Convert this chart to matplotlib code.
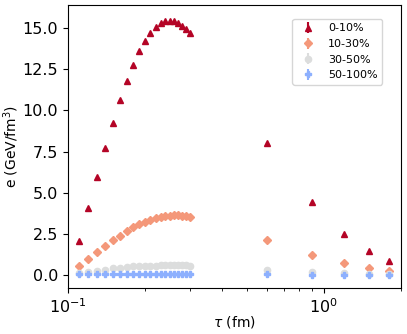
import matplotlib
matplotlib.use("Agg")
import matplotlib.pyplot as plt
import numpy as np

tau = [0.11, 0.12, 0.13, 0.14, 0.15, 0.16, 0.17, 0.18, 0.19, 0.20,
       0.21, 0.22, 0.23, 0.24, 0.25, 0.26, 0.27, 0.28, 0.29, 0.30,
       0.6, 0.9, 1.2, 1.5, 1.8]

e_0_10 = [2.1, 4.1, 5.97, 7.7, 9.25, 10.65, 11.8, 12.75, 13.6, 14.2,
          14.7, 15.05, 15.3, 15.4, 15.45, 15.4, 15.3, 15.15, 14.95, 14.7,
          8.05, 4.43, 2.52, 1.45, 0.87]
e_10_30 = [0.53, 1.01, 1.43, 1.8, 2.12, 2.4, 2.68, 2.9, 3.08, 3.25,
           3.38, 3.47, 3.54, 3.59, 3.62, 3.63, 3.63, 3.62, 3.6, 3.55,
           2.12, 1.23, 0.73, 0.46, 0.28]
e_30_50 = [0.14, 0.22, 0.28, 0.34, 0.41, 0.46, 0.5, 0.53, 0.55, 0.57,
           0.58, 0.59, 0.6, 0.6, 0.6, 0.6, 0.6, 0.6, 0.6, 0.59,
           0.34, 0.2, 0.12, 0.08, 0.06]
e_50_100 = [0.05, 0.06, 0.06, 0.07, 0.07, 0.07, 0.07, 0.07, 0.07, 0.07,
            0.07, 0.07, 0.07, 0.07, 0.07, 0.07, 0.07, 0.07, 0.07, 0.07,
            0.05, 0.04, 0.03, 0.03, 0.02]
err = [0.05] * len(tau)

labels = ["0-10%", "10-30%", "30-50%", "50-100%"]
series = [e_0_10, e_10_30, e_30_50, e_50_100]
colors = ["#b40426", "#f4987a", "#dcdddd", "#8db0fe"]
markers = ["^", "D", "o", "P"]
sizes = [5, 4, 4.5, 5]

fig = plt.figure(figsize=(4.07, 3.34), dpi=100)
ax = fig.add_axes([0.167, 0.138, 0.818, 0.847])

for vals, lab, col, mk, ms in zip(series, labels, colors, markers, sizes):
    ax.errorbar(tau, vals, yerr=err, fmt=mk, color=col, ecolor=col,
                markersize=ms, label=lab)

ax.set_xscale("log")
ax.set_xlim(0.1, 2.0)
ax.set_ylim(-0.77, 16.4)
ax.set_yticks([0, 2.5, 5, 7.5, 10, 12.5, 15])
ax.tick_params(axis="both", which="major", labelsize=11.5)
ax.set_xlabel(r"$\tau$ (fm)", fontsize=10)
ax.xaxis.set_label_coords(0.5, -0.092)
ax.set_ylabel(r"e (GeV/fm$^3$)", fontsize=10)
ax.yaxis.set_label_coords(-0.14, 0.5)
ax.legend(loc="upper right", fontsize=8, bbox_to_anchor=(0.96, 0.97))

fig.savefig("out.png", dpi=100)
